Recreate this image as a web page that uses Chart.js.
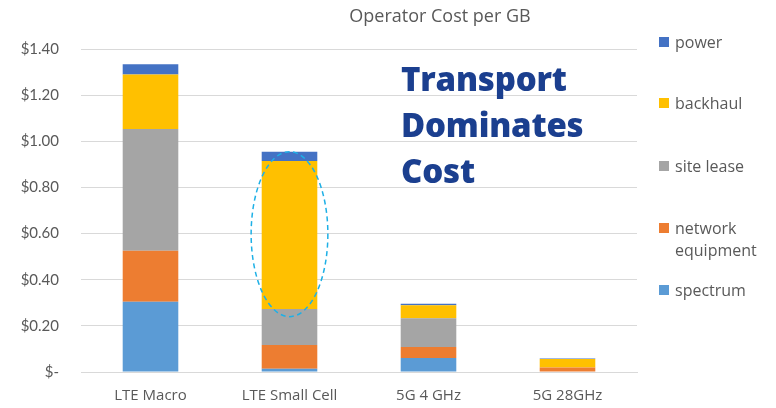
<!DOCTYPE html>
<html>
<head>
<meta charset="utf-8">
<script src="https://cdn.jsdelivr.net/npm/chart.js@4"></script>
<style>
  html,body{margin:0;padding:0;background:#fff;}
  #wrap{position:relative;width:776px;height:408px;overflow:hidden;}
  canvas{position:absolute;left:0;top:0;}
  #title{position:absolute;left:320px;width:240px;top:3px;text-align:center;font-family:"Open Sans",sans-serif;font-size:18px;color:#595959;white-space:nowrap;}
  #note{position:absolute;left:401px;top:56px;font-family:"Open Sans",sans-serif;font-weight:800;font-size:33px;line-height:46px;color:#1B3F8F;letter-spacing:-0.2px;}
  .lg{position:absolute;left:659px;font-family:"Open Sans",sans-serif;font-size:16px;line-height:22px;color:#595959;}
  .lg i{position:absolute;left:0;top:6px;width:10px;height:10px;}
  .lg span{display:block;margin-left:16px;}
</style>
</head>
<body>
<div id="wrap">
  <canvas id="c" width="776" height="408"></canvas>
  <div id="title">Operator Cost per GB</div>
  <div id="note">Transport<br>Dominates<br>Cost</div>
  <div id="legend"></div>
</div>
<script>
const categories = ["LTE Macro", "LTE Small Cell", "5G 4 GHz", "5G 28GHz"];
const seriesNames = ["spectrum", "network equipment", "site lease", "backhaul", "power"];
const spectrum = [0.305, 0.014, 0.061, 0.002];
const networkEquipment = [0.221, 0.103, 0.047, 0.018];
const siteLease = [0.527, 0.156, 0.125, 0.000];
const backhaul = [0.237, 0.642, 0.056, 0.036];
const power = [0.044, 0.040, 0.007, 0.002];
const seriesColors = ["#5B9BD5", "#ED7D31", "#A5A5A5", "#FFC000", "#4472C4"];
const yTicks = [0, 0.2, 0.4, 0.6, 0.8, 1.0, 1.2, 1.4];
const highlight = {category: 1, from: 0.24, to: 0.955};

const seriesValues = [spectrum, networkEquipment, siteLease, backhaul, power];

// HTML legend (top to bottom: power ... spectrum)
const legendTops = [31, 92, 155, 217, 279];
const legendLabels = ["power", "backhaul", "site lease", "network<br>equipment", "spectrum"];
const legendColors = ["#4472C4", "#FFC000", "#A5A5A5", "#ED7D31", "#5B9BD5"];
const lgEl = document.getElementById('legend');
legendLabels.forEach((t, i) => {
  const d = document.createElement('div');
  d.className = 'lg';
  d.style.top = legendTops[i] + 'px';
  d.innerHTML = '<i style="background:' + legendColors[i] + '"></i><span>' + t + '</span>';
  lgEl.appendChild(d);
});

const ellipsePlugin = {
  id: 'ellipse',
  afterDatasetsDraw(chart) {
    const {ctx, scales} = chart;
    const meta = chart.getDatasetMeta(0);
    const bar = meta.data[highlight.category];
    const cx = scales.x.getPixelForValue(highlight.category);
    const y1 = scales.y.getPixelForValue(highlight.to);
    const y2 = scales.y.getPixelForValue(highlight.from);
    const rx = bar.width * 0.69;
    ctx.save();
    ctx.beginPath();
    ctx.setLineDash([5, 3.5]);
    ctx.strokeStyle = '#1EB0E6';
    ctx.lineWidth = 1.5;
    ctx.ellipse(cx, (y1 + y2) / 2, rx, (y2 - y1) / 2, 0, 0, Math.PI * 2);
    ctx.stroke();
    ctx.restore();
  }
};

new Chart(document.getElementById('c'), {
  type: 'bar',
  data: {
    labels: categories,
    datasets: seriesNames.map((n, i) => ({
      label: n,
      data: seriesValues[i],
      backgroundColor: seriesColors[i],
      borderWidth: 0,
      barPercentage: 0.4,
      categoryPercentage: 1.0
    }))
  },
  options: {
    responsive: false,
    animation: false,
    devicePixelRatio: 1,
    layout: {padding: {left: 0, right: 139, top: 49, bottom: 0}},
    plugins: {legend: {display: false}, title: {display: false}, tooltip: {enabled: false}},
    scales: {
      x: {
        stacked: true,
        grid: {display: false, drawTicks: false},
        border: {display: true, color: '#D9D9D9'},
        ticks: {color: '#595959', font: {family: 'Open Sans', size: 15}, padding: 15},
        afterFit(s) { s.height = 36; }
      },
      y: {
        stacked: true,
        min: 0, max: 1.4,
        afterBuildTicks(s) { s.ticks = yTicks.map(v => ({value: v})); },
        grid: {color: '#D9D9D9', drawTicks: false},
        border: {display: false},
        ticks: {
          color: '#595959', font: {family: 'Lato', size: 15}, padding: 22,
          callback: v => v === 0 ? '$-' : '$' + Number(v).toFixed(2)
        },
        afterFit(s) { s.width = 81; }
      }
    }
  },
  plugins: [ellipsePlugin]
});
</script>
</body>
</html>
